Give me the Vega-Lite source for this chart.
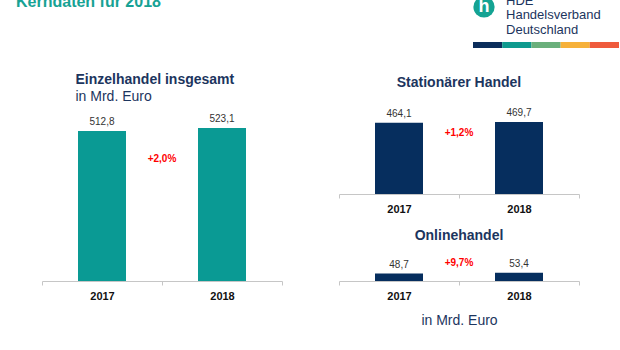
{
  "$schema": "https://vega.github.io/schema/vega-lite/v6.json",
  "padding": {"left": 16, "top": -6, "right": 0, "bottom": 0},
  "background": "white",
  "spacing": 55,
  "config": {
    "font": "Liberation Sans",
    "view": {"stroke": null},
    "locale": {"number": {"decimal": ",", "thousands": ".", "grouping": [3], "currency": ["", " €"]}},
    "axisX": {"domainColor": "#c6c6c6", "tickColor": "#c6c6c6", "tickSize": 4, "tickBand": "extent", "labelAngle": 0, "labelFontSize": 11, "labelFontWeight": "bold", "labelColor": "#111111", "labelPadding": 5, "title": null}
  },
  "datasets": {
    "werte": [
      {"bereich": "Einzelhandel insgesamt", "jahr": "2017", "umsatz": 512.8, "veraenderung": 0.020},
      {"bereich": "Einzelhandel insgesamt", "jahr": "2018", "umsatz": 523.1},
      {"bereich": "Stationärer Handel", "jahr": "2017", "umsatz": 464.1, "veraenderung": 0.012},
      {"bereich": "Stationärer Handel", "jahr": "2018", "umsatz": 469.7},
      {"bereich": "Onlinehandel", "jahr": "2017", "umsatz": 48.7, "veraenderung": 0.097},
      {"bereich": "Onlinehandel", "jahr": "2018", "umsatz": 53.4}
    ],
    "logo": [
      {"segment": "1"}, {"segment": "2"}, {"segment": "3"}, {"segment": "4"}, {"segment": "5"}
    ]
  },
  "hconcat": [
    {
      "spacing": 25,
      "vconcat": [
        {
          "width": 240,
          "height": 6,
          "title": {"text": "Kerndaten für 2018", "anchor": "start", "dx": -26, "fontSize": 16, "fontWeight": "bold", "color": "#17a294", "offset": 32},
          "data": {"values": []},
          "mark": "point"
        },
        {
          "width": 240,
          "height": 170,
          "title": {"text": "Einzelhandel insgesamt", "subtitle": "in Mrd. Euro", "anchor": "start", "dx": 34, "fontSize": 14, "fontWeight": "bold", "subtitleFontSize": 14, "color": "#1c355e", "subtitleColor": "#1c355e", "subtitlePadding": 3, "offset": 7},
          "data": {"name": "werte"},
          "transform": [{"filter": "datum.bereich === 'Einzelhandel insgesamt'"}],
          "encoding": {
            "x": {"field": "jahr", "type": "nominal", "scale": {"paddingInner": 0, "paddingOuter": 0}},
            "y": {"field": "umsatz", "type": "quantitative", "scale": {"domain": [0, 581]}, "axis": null}
          },
          "layer": [
            {"mark": {"type": "bar", "color": "#0a9a94", "width": {"band": 0.4}}},
            {"mark": {"type": "text", "baseline": "alphabetic", "dy": -6, "fontSize": 10, "color": "#333333"},
             "encoding": {"text": {"field": "umsatz", "type": "quantitative", "format": ".1f"}}},
            {"transform": [{"filter": "isValid(datum.veraenderung)"}],
             "mark": {"type": "text", "baseline": "alphabetic", "dy": 31, "fontSize": 10, "fontWeight": "bold", "color": "#ff0000"},
             "encoding": {"x": {"field": "jahr", "type": "nominal", "bandPosition": 1}, "text": {"field": "veraenderung", "type": "quantitative", "format": "+.1%"}}}
          ]
        }
      ]
    },
    {
      "spacing": 28,
      "vconcat": [
        {
          "width": 280,
          "height": 6,
          "data": {"name": "logo"},
          "encoding": {
            "x": {"field": "segment", "type": "nominal", "axis": null, "scale": {"domain": ["-2", "-1", "0", "1", "2", "3", "4", "5"], "paddingInner": 0, "paddingOuter": 0.795, "align": 1}}
          },
          "layer": [
            {"mark": {"type": "bar"},
             "encoding": {"color": {"field": "segment", "type": "nominal", "legend": null, "scale": {"domain": ["1", "2", "3", "4", "5"], "range": ["#0b2d5b", "#0e9a8e", "#6aaf7b", "#f6b13a", "#ef5a3c"]}}}},
            {"transform": [{"filter": "datum.segment === '1'"}],
             "mark": {"type": "circle", "size": 450, "color": "#14a393", "opacity": 1, "yOffset": -38, "xOffset": -3.6}},
            {"transform": [{"filter": "datum.segment === '1'"}],
             "mark": {"type": "text", "text": "h", "fontSize": 18, "fontWeight": "bold", "color": "white", "baseline": "middle", "yOffset": -38, "xOffset": -3.6}},
            {"transform": [{"filter": "datum.segment === '1'"}],
             "mark": {"type": "text", "text": ["HDE", "Handelsverband", "Deutschland"], "align": "left", "baseline": "alphabetic", "fontSize": 13, "lineHeight": 14.5, "color": "#1c355e", "yOffset": -40.5, "xOffset": 18.4}}
          ]
        },
        {
          "spacing": 15,
          "vconcat": [
            {
              "width": 240,
              "height": 90,
              "title": {"text": "Stationärer Handel", "anchor": "middle", "fontSize": 14, "fontWeight": "bold", "color": "#1c355e", "offset": 14},
              "data": {"name": "werte"},
              "transform": [{"filter": "datum.bereich === 'Stationärer Handel'"}],
              "encoding": {
                "x": {"field": "jahr", "type": "nominal", "scale": {"paddingInner": 0, "paddingOuter": 0}},
                "y": {"field": "umsatz", "type": "quantitative", "scale": {"domain": [0, 587]}, "axis": null}
              },
              "layer": [
                {"mark": {"type": "bar", "color": "#062e5e", "width": {"band": 0.4}}},
                {"mark": {"type": "text", "baseline": "alphabetic", "dy": -6, "fontSize": 10, "color": "#333333"},
                 "encoding": {"text": {"field": "umsatz", "type": "quantitative", "format": ".1f"}}},
                {"transform": [{"filter": "isValid(datum.veraenderung)"}],
                 "mark": {"type": "text", "baseline": "alphabetic", "dy": 13, "fontSize": 10, "fontWeight": "bold", "color": "#ff0000"},
                 "encoding": {"x": {"field": "jahr", "type": "nominal", "bandPosition": 1}, "text": {"field": "veraenderung", "type": "quantitative", "format": "+.1%"}}}
              ]
            },
            {
              "width": 240,
              "height": 30,
              "title": {"text": "Onlinehandel", "anchor": "middle", "fontSize": 14, "fontWeight": "bold", "color": "#1c355e", "offset": 8},
              "data": {"name": "werte"},
              "transform": [{"filter": "datum.bereich === 'Onlinehandel'"}],
              "encoding": {
                "x": {"field": "jahr", "type": "nominal", "scale": {"paddingInner": 0, "paddingOuter": 0},
                      "axis": {"title": "in Mrd. Euro", "titleFontSize": 14, "titleFontWeight": "normal", "titleColor": "#1c355e", "titlePadding": 12}},
                "y": {"field": "umsatz", "type": "quantitative", "scale": {"domain": [0, 196]}, "axis": null}
              },
              "layer": [
                {"mark": {"type": "bar", "color": "#062e5e", "width": {"band": 0.4}}},
                {"mark": {"type": "text", "baseline": "alphabetic", "dy": -6, "fontSize": 10, "color": "#333333"},
                 "encoding": {"text": {"field": "umsatz", "type": "quantitative", "format": ".1f"}}},
                {"transform": [{"filter": "isValid(datum.veraenderung)"}],
                 "mark": {"type": "text", "baseline": "alphabetic", "dy": -7.5, "fontSize": 10, "fontWeight": "bold", "color": "#ff0000"},
                 "encoding": {"x": {"field": "jahr", "type": "nominal", "bandPosition": 1}, "text": {"field": "veraenderung", "type": "quantitative", "format": "+.1%"}}}
              ]
            }
          ]
        }
      ]
    }
  ]
}
